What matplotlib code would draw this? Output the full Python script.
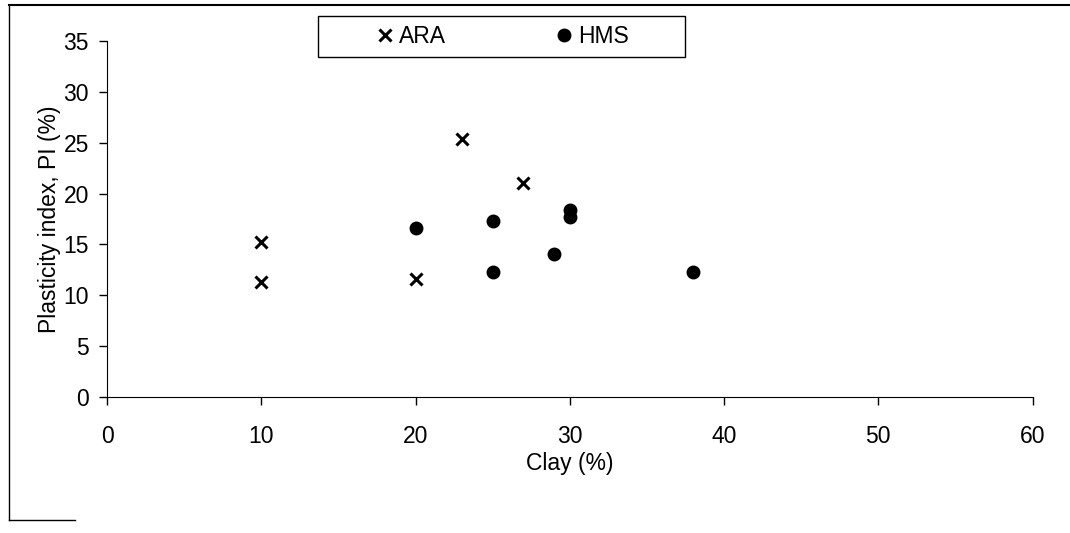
import matplotlib.pyplot as plt
from matplotlib.lines import Line2D
from matplotlib.patches import Rectangle

plt.rcParams['font.family'] = ['Liberation Sans', 'DejaVu Sans']

# ARA samples
ara_clay = [10, 10, 20, 23, 27]
ara_pi = [15.2, 11.3, 11.6, 25.4, 21.0]

# HMS samples
hms_clay = [20, 25, 25, 29, 30, 30, 38]
hms_pi = [16.6, 17.3, 12.3, 14.1, 18.4, 17.7, 12.3]

xticks = [0, 10, 20, 30, 40, 50, 60]
yticks = [0, 5, 10, 15, 20, 25, 30, 35]

fig = plt.figure(figsize=(10.7, 5.33), dpi=100)
ax = fig.add_axes([0.1, 0.255, 0.865, 0.668])

ax.plot(ara_clay, ara_pi, linestyle='none', marker='x', color='black',
        markersize=9, markeredgewidth=2.2, label='ARA')
ax.plot(hms_clay, hms_pi, linestyle='none', marker='o', color='black',
        markersize=9, label='HMS')

ax.set_xlim(0, 60)
ax.set_ylim(0, 35)
ax.set_xticks(xticks)
ax.set_yticks(yticks)
ax.spines['top'].set_visible(False)
ax.spines['right'].set_visible(False)
ax.tick_params(labelsize=16.5, length=6, width=1, direction='out')
ax.tick_params(axis='x', pad=14)
ax.tick_params(axis='y', pad=7)
ax.set_xlabel('Clay (%)', fontsize=16.5, labelpad=3)
ax.set_ylabel('Plasticity index, PI (%)', fontsize=16.5, labelpad=2)

# legend without its own frame; box drawn separately to match the wide layout
leg = fig.legend(*ax.get_legend_handles_labels(), loc='center left',
                 bbox_to_anchor=(0.3495, 0.9306), ncol=2, frameon=False,
                 fontsize=16.5, handletextpad=0.1, handlelength=1.0,
                 columnspacing=4.65, borderpad=0, borderaxespad=0)
fig.add_artist(Rectangle((0.297, 0.893), 0.343, 0.077, transform=fig.transFigure,
                         fill=False, edgecolor='black', lw=1))

# scanned frame remnants around the figure
fig.add_artist(Line2D([0.008, 0.008], [0.025, 0.99], color='black', lw=1))
fig.add_artist(Line2D([0.008, 1.0], [0.99, 0.99], color='black', lw=1.5))
fig.add_artist(Line2D([0.008, 0.07], [0.025, 0.025], color='black', lw=1))

fig.savefig('out.png', dpi=100)
